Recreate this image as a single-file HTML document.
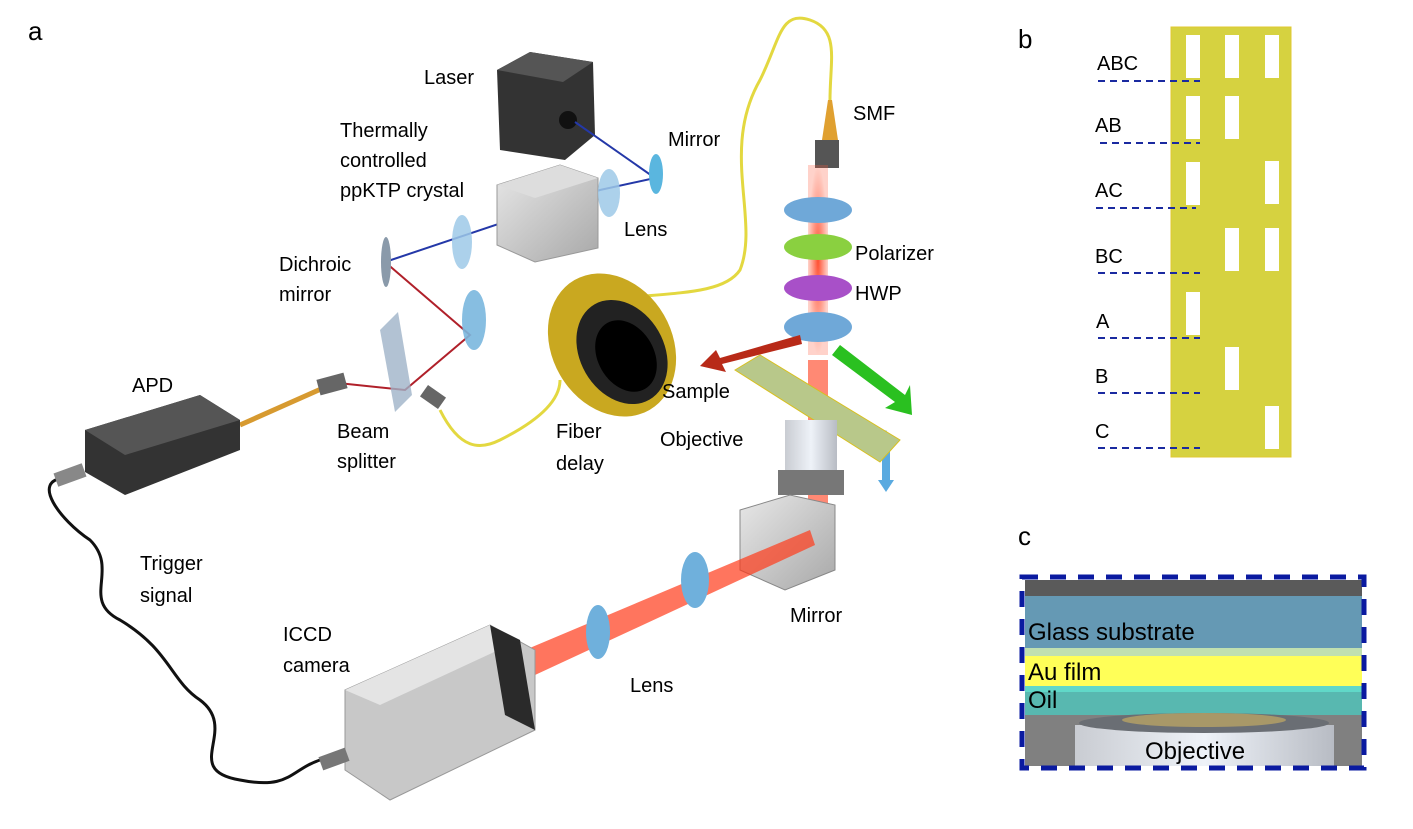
<!DOCTYPE html>
<html><head><meta charset="utf-8"><style>
html,body{margin:0;padding:0;background:#fff}
svg{display:block}
text{font-family:"Liberation Sans",sans-serif;fill:#000}
</style></head><body>
<svg width="1413" height="829" viewBox="0 0 1413 829" xmlns="http://www.w3.org/2000/svg">
<defs>
<linearGradient id="gbox" x1="0" y1="0" x2="1" y2="1"><stop offset="0" stop-color="#e8e8e8"/><stop offset="1" stop-color="#a8a8a8"/></linearGradient>
<linearGradient id="gcyl" x1="0" x2="1"><stop offset="0" stop-color="#c9ccd2"/><stop offset="0.5" stop-color="#eef2f8"/><stop offset="1" stop-color="#b8bcc4"/></linearGradient>
<radialGradient id="gbeam"><stop offset="0" stop-color="#ff3a1a"/><stop offset="1" stop-color="#ff5a3a" stop-opacity="0.3"/></radialGradient>
</defs>
<rect width="1413" height="829" fill="#fff"/>
<text x="28" y="40" font-size="26">a</text>
<text x="1018" y="48" font-size="26">b</text>
<text x="1018" y="545" font-size="26">c</text>

<path d="M570 305 C650 290 720 300 740 270 C760 220 720 150 760 80 C780 40 780 10 810 20 C840 30 830 60 830 100" fill="none" stroke="#e3d840" stroke-width="3"/>
<path d="M440 410 C460 450 480 450 500 440 C540 420 560 400 560 380" fill="none" stroke="#e3d840" stroke-width="3"/>
<path d="M240 425 L330 385" stroke="#d79a30" stroke-width="5"/>
<path d="M65 478 C30 480 60 520 90 540 C120 570 80 600 120 620 C170 650 170 680 200 700 C240 730 180 770 240 780 C290 790 290 770 320 760" fill="none" stroke="#111" stroke-width="3"/>

<polygon points="497,70 530,52 593,62 595,135 565,160 500,150" fill="#333"/>
<polygon points="497,70 530,52 593,62 563,82" fill="#555"/>
<circle cx="568" cy="120" r="9" fill="#111"/>
<path d="M575 122 L655 178 L600 190 L385 262" fill="none" stroke="#2438a8" stroke-width="2"/>
<path d="M385 262 L470 335 L405 390 L338 383" fill="none" stroke="#b0202a" stroke-width="2"/>
<polygon points="497,185 560,165 598,178 598,248 535,262 497,245" fill="url(#gbox)" stroke="#999"/>
<polygon points="497,185 560,165 598,178 535,198" fill="#ddd"/>
<ellipse cx="609" cy="193" rx="11" ry="24" fill="#9ec9e8" opacity="0.85"/>
<ellipse cx="656" cy="174" rx="7" ry="20" fill="#5ab6df"/>
<ellipse cx="462" cy="242" rx="10" ry="27" fill="#9ec9e8" opacity="0.85"/>
<ellipse cx="386" cy="262" rx="5" ry="25" fill="#8a9aaa"/>
<ellipse cx="474" cy="320" rx="12" ry="30" fill="#7ab7de" opacity="0.9"/>
<polygon points="380,330 398,312 412,395 395,412" fill="#9fb3c8" opacity="0.8"/>
<polygon points="85,430 200,395 240,420 240,450 125,495 85,472" fill="#333"/>
<polygon points="85,430 200,395 240,420 125,455" fill="#555"/>
<rect x="318" y="376" width="28" height="16" fill="#666" transform="rotate(-15 332 384)"/>
<rect x="422" y="390" width="22" height="14" fill="#666" transform="rotate(35 433 397)"/>
<rect x="55" y="468" width="30" height="14" fill="#888" transform="rotate(-20 70 475)"/>
<ellipse cx="612" cy="345" rx="60" ry="75" fill="#c9a820" transform="rotate(-30 612 345)"/>
<ellipse cx="622" cy="352" rx="42" ry="55" fill="#222" transform="rotate(-30 622 352)"/>
<ellipse cx="626" cy="356" rx="28" ry="38" fill="#000" transform="rotate(-30 626 356)"/>
<polygon points="828,100 832,100 838,140 822,140" fill="#e0a030"/>
<rect x="815" y="140" width="24" height="28" fill="#555"/>
<rect x="808" y="165" width="20" height="190" fill="url(#gbeam)" opacity="0.9"/>
<rect x="808" y="360" width="20" height="170" fill="#ff4a2a" opacity="0.65"/>
<ellipse cx="818" cy="210" rx="34" ry="13" fill="#6fa8d8"/>
<ellipse cx="818" cy="247" rx="34" ry="13" fill="#8ad040"/>
<ellipse cx="818" cy="288" rx="34" ry="13" fill="#a850c8"/>
<ellipse cx="818" cy="327" rx="34" ry="15" fill="#6fa8d8"/>
<polygon points="800,335 720,358 716,350 700,366 726,372 722,364 802,344" fill="#b82a18"/>
<polygon points="840,345 905,395 910,385 912,415 885,408 895,402 832,355" fill="#2ac020"/>
<polygon points="878,445 886,430 894,445 890,445 890,480 894,480 886,492 878,480 882,480 882,445" fill="#5aaae0"/>
<polygon points="735,370 760,355 900,440 880,462" fill="#b8c88a" stroke="#d8c020"/>
<rect x="785" y="420" width="52" height="55" fill="url(#gcyl)"/>
<rect x="778" y="470" width="66" height="25" fill="#777"/>
<polygon points="740,510 790,495 835,505 835,570 785,590 740,570" fill="url(#gbox)" stroke="#888"/>
<polygon points="525,650 810,530 815,545 535,675" fill="#ff3a1a" opacity="0.7"/>
<ellipse cx="695" cy="580" rx="14" ry="28" fill="#6fb0dc"/>
<ellipse cx="598" cy="632" rx="12" ry="27" fill="#6fb0dc"/>
<polygon points="345,690 490,625 535,650 535,730 390,800 345,770" fill="#c8c8c8" stroke="#999"/>
<polygon points="345,690 490,625 520,640 380,705" fill="#e4e4e4"/>
<polygon points="490,625 520,640 535,730 505,715" fill="#2a2a2a"/>
<rect x="320" y="752" width="28" height="14" fill="#777" transform="rotate(-20 334 759)"/>

<g font-size="20">
<text x="424" y="84">Laser</text>
<text x="340" y="137">Thermally</text>
<text x="340" y="167">controlled</text>
<text x="340" y="197">ppKTP crystal</text>
<text x="668" y="146">Mirror</text>
<text x="624" y="236">Lens</text>
<text x="279" y="271">Dichroic</text>
<text x="279" y="301">mirror</text>
<text x="132" y="392">APD</text>
<text x="337" y="438">Beam</text>
<text x="337" y="468">splitter</text>
<text x="556" y="438">Fiber</text>
<text x="556" y="470">delay</text>
<text x="853" y="120">SMF</text>
<text x="855" y="260">Polarizer</text>
<text x="855" y="300">HWP</text>
<text x="662" y="398">Sample</text>
<text x="660" y="446">Objective</text>
<text x="140" y="570">Trigger</text>
<text x="140" y="602">signal</text>
<text x="283" y="641">ICCD</text>
<text x="283" y="672">camera</text>
<text x="630" y="692">Lens</text>
<text x="790" y="622">Mirror</text>
</g>

<rect x="1171" y="27" width="120" height="430" fill="#d6d240" stroke="#e0c830"/>
<g fill="#fff">
<rect x="1186" y="35" width="14" height="43"/><rect x="1225" y="35" width="14" height="43"/><rect x="1265" y="35" width="14" height="43"/>
<rect x="1186" y="96" width="14" height="43"/><rect x="1225" y="96" width="14" height="43"/>
<rect x="1186" y="162" width="14" height="43"/><rect x="1265" y="161" width="14" height="43"/>
<rect x="1225" y="228" width="14" height="43"/><rect x="1265" y="228" width="14" height="43"/>
<rect x="1186" y="292" width="14" height="43"/>
<rect x="1225" y="347" width="14" height="43"/>
<rect x="1265" y="406" width="14" height="43"/>
</g>
<g stroke="#1a2aa0" stroke-width="2" stroke-dasharray="7,5">
<line x1="1098" y1="81" x2="1200" y2="81"/><line x1="1100" y1="143" x2="1200" y2="143"/>
<line x1="1096" y1="208" x2="1196" y2="208"/><line x1="1098" y1="273" x2="1200" y2="273"/>
<line x1="1098" y1="338" x2="1200" y2="338"/><line x1="1098" y1="393" x2="1200" y2="393"/>
<line x1="1098" y1="448" x2="1200" y2="448"/>
</g>
<g font-size="20">
<text x="1097" y="70">ABC</text><text x="1095" y="132">AB</text><text x="1095" y="197">AC</text>
<text x="1095" y="263">BC</text><text x="1096" y="328">A</text><text x="1095" y="383">B</text><text x="1095" y="438">C</text>
</g>

<rect x="1025" y="580" width="337" height="16" fill="#5a5a5a"/>
<rect x="1025" y="596" width="337" height="52" fill="#6599b4"/>
<rect x="1025" y="648" width="337" height="8" fill="#c0e0b0"/>
<rect x="1025" y="656" width="337" height="30" fill="#ffff58"/>
<rect x="1025" y="686" width="337" height="6" fill="#60d8c8"/>
<rect x="1025" y="692" width="337" height="23" fill="#58b8b0"/>
<rect x="1025" y="715" width="337" height="51" fill="#808080"/>
<rect x="1075" y="725" width="259" height="41" fill="url(#gcyl)"/>
<ellipse cx="1204" cy="723" rx="125" ry="10" fill="#6a6e74"/>
<ellipse cx="1204" cy="720" rx="82" ry="7" fill="#a89868"/>
<rect x="1022" y="577" width="342" height="191" fill="none" stroke="#0a1aa0" stroke-width="5" stroke-dasharray="16,12"/>
<text x="1028" y="640" font-size="24">Glass substrate</text>
<text x="1028" y="680" font-size="24">Au film</text>
<text x="1028" y="708" font-size="24">Oil</text>
<text x="1145" y="759" font-size="24">Objective</text>
</svg>
</body></html>
